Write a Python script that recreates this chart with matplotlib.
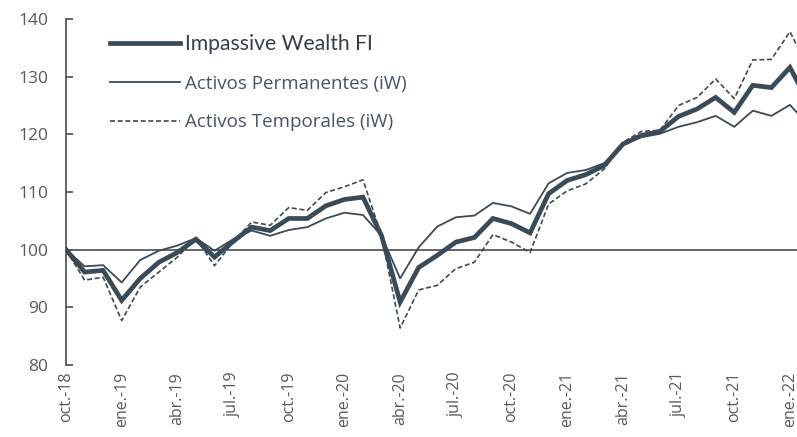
"""Impassive Wealth FI vs. its permanent / temporary asset sleeves (base 100)."""

import matplotlib
matplotlib.use("Agg")
import matplotlib.pyplot as plt
from matplotlib.lines import Line2D

# Monthly index values, oct-18 .. feb-22 (base 100)
impassive = [100, 96.1, 96.4, 91.2, 95.0, 97.8, 99.5, 101.8, 98.7, 101.4,
             103.9, 103.3, 105.4, 105.4, 107.6, 108.7, 109.1, 102.4, 90.9, 96.9,
             99.0, 101.3, 102.1, 105.4, 104.5, 102.9, 109.7, 112.0, 113.0, 114.6,
             118.3, 119.8, 120.5, 123.1, 124.4, 126.4, 123.8, 128.5, 128.1, 131.6,
             125.5]
permanentes = [100, 97.1, 97.3, 94.3, 98.2, 99.8, 100.7, 102.0, 99.8, 101.8,
               103.3, 102.4, 103.4, 103.9, 105.4, 106.4, 106.0, 102.4, 95.0, 100.4,
               104.0, 105.6, 105.9, 108.1, 107.5, 106.2, 111.5, 113.3, 113.8, 115.0,
               118.3, 119.5, 120.1, 121.3, 122.1, 123.2, 121.3, 124.1, 123.2, 125.1,
               121.6]
temporales = [100, 94.7, 95.2, 87.7, 93.5, 96.1, 98.7, 102.0, 97.2, 101.3,
              104.8, 104.2, 107.3, 106.8, 109.9, 110.9, 112.1, 102.4, 86.4, 93.0,
              93.8, 96.7, 97.8, 102.6, 101.3, 99.5, 107.9, 110.2, 111.4, 114.0,
              118.6, 120.5, 120.7, 125.0, 126.4, 129.6, 126.2, 132.9, 133.0, 137.8,
              131.4]

month_names = ["ene.", "feb.", "mar.", "abr.", "may.", "jun.",
               "jul.", "ago.", "sep.", "oct.", "nov.", "dic."]
start_month, start_year = 9, 2018  # oct.-18

labels = []
for i in range(len(impassive)):
    m = (start_month + i) % 12
    y = start_year + (start_month + i) // 12
    labels.append(f"{month_names[m]}-{y % 100:02d}")
x = list(range(len(impassive)))

LINE = "#3b4a57"
TEXT = "#44546a"
AXIS = "#595959"

plt.rcParams["font.family"] = ["Open Sans", "DejaVu Sans"]

fig = plt.figure(figsize=(7.97, 4.37), dpi=100)
ax = fig.add_axes([0.0828, 0.165, 0.9172, 0.7915])

ax.axhline(100, color=AXIS, lw=1.3, zorder=1)
ax.plot(x, permanentes, color=LINE, lw=1.3, zorder=3)
ax.plot(x, temporales, color=LINE, lw=1.2, dashes=(3, 1.6), zorder=3)
ax.plot(x, impassive, color=LINE, lw=3.4, zorder=4, solid_joinstyle="miter")

ax.set_ylim(80, 140)
ax.set_xlim(0, 39.38)
ax.set_yticks(range(80, 141, 10))
ax.set_xticks(x[::3])
ax.set_xticklabels(labels[::3], rotation=90)

for side in ["top", "right", "bottom"]:
    ax.spines[side].set_visible(False)
ax.spines["left"].set_color(AXIS)
ax.spines["left"].set_linewidth(1.3)
ax.tick_params(axis="y", direction="in", length=5, width=1.3, color=AXIS,
               labelsize=12.5, labelcolor=AXIS, pad=13)
ax.tick_params(axis="x", length=0, labelsize=11.5, labelcolor=AXIS, pad=5)

handles = [
    Line2D([], [], color=LINE, lw=3.4),
    Line2D([], [], color=LINE, lw=1.3),
    Line2D([], [], color=LINE, lw=1.2, dashes=(3, 1.6)),
]
leg = ax.legend(handles, ["Impassive Wealth FI", "Activos Permanentes (iW)",
                          "Activos Temporales (iW)"],
                loc="upper left", bbox_to_anchor=(0.060, 0.957), frameon=False,
                borderpad=0, borderaxespad=0,
                fontsize=13.5, handlelength=3.75, handletextpad=0.25,
                labelspacing=1.1)
for t in leg.get_texts():
    t.set_color(TEXT)
first = leg.get_texts()[0]
first.set_family(["Lato", "DejaVu Sans"])
first.set_fontsize(15.2)
first.set_color("#333f4f")

fig.savefig("out.png", dpi=100)
